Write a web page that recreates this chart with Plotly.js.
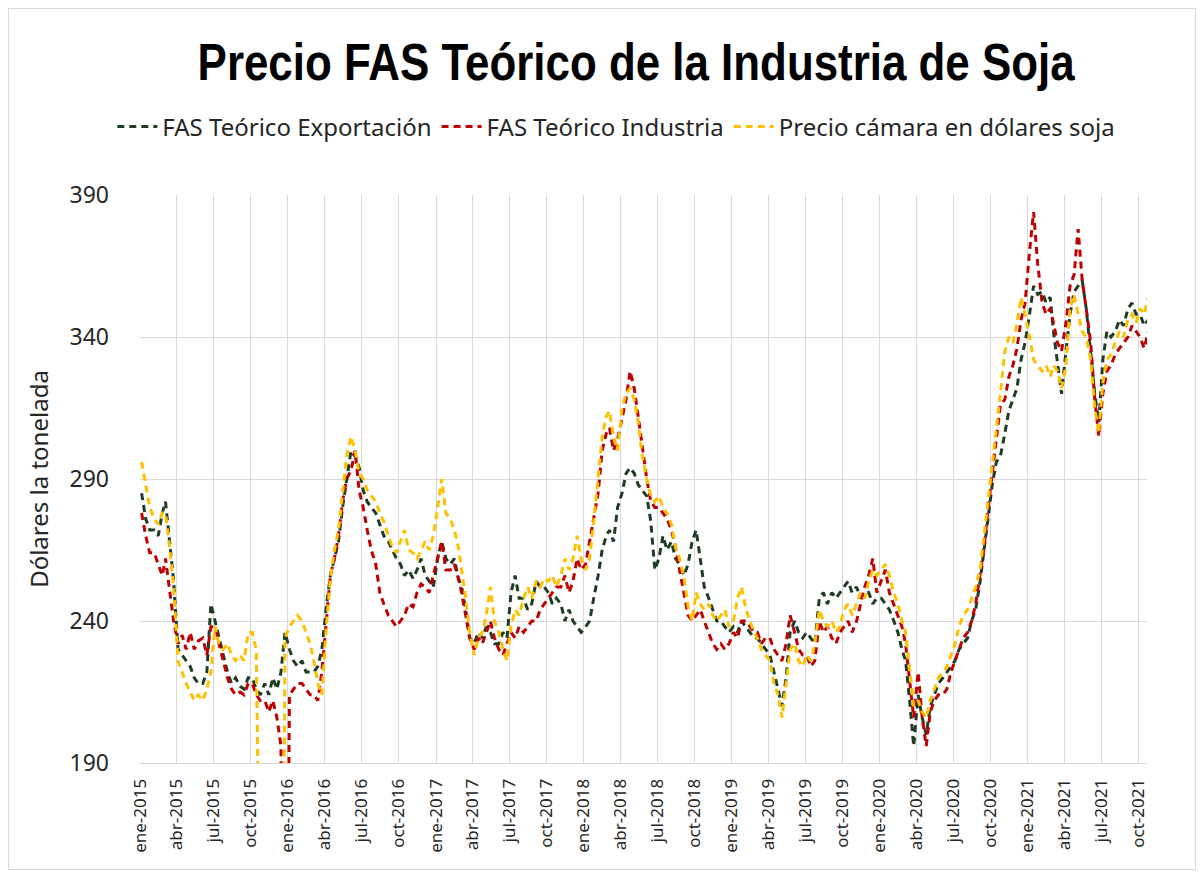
<!DOCTYPE html>
<html>
<head>
<meta charset="utf-8">
<script src="https://cdn.plot.ly/plotly-3.0.1.min.js"></script>
<style>
html,body{margin:0;padding:0;background:#fff;}
#wrap{position:relative;width:1201px;height:873px;}
#chart{width:1201px;height:873px;}
#frame{position:absolute;left:8px;top:8px;width:1186px;height:860px;border:1px solid #d9d9d9;pointer-events:none;}
</style>
</head>
<body>
<div id="wrap"><div id="chart"></div><div id="frame"></div></div>
<script>
// ---- data (three readings per month: day 5, 15, 25), ene-2015 .. oct-2021 ----
const startYear = 2015, startMonth = 1, nMonths = 82;
const sampleDays = [5, 15, 25];

const fasExportacion = [
  // 2015
  285,276,272, 272,270,278, 282,268,254, 230,228,226, 224,220,218, 218,222,246,
  240,234,228, 222,218,220, 217,216,220, 220,216,214, 218,214,220, 216,222,236,
  // 2016
  230,226,224, 226,222,222, 222,224,230, 245,256,262, 268,280,290, 300,298,294,
  286,282,280, 278,274,270, 268,265,262, 260,256,258, 255,258,262, 256,254,252,
  // 2017
  262,268,262, 260,262,255, 252,244,234, 232,236,234, 238,236,232, 232,236,234,
  250,256,248, 248,244,246, 254,252,252, 250,246,248, 246,240,244, 240,238,236,
  // 2018
  238,240,248, 256,265,270, 272,268,280, 285,292,294, 292,288,286, 284,275,258,
  262,270,265, 268,262,260, 256,260,268, 272,262,252, 248,244,240, 240,238,236,
  // 2019
  238,236,240, 238,236,234, 234,232,230, 228,222,216, 210,220,236, 240,236,234,
  236,234,232, 248,250,246, 250,248,250, 252,254,250, 252,248,250, 250,246,248,
  // 2020
  248,246,244, 240,236,230, 226,212,196, 214,206,200, 210,214,218, 220,222,224,
  226,230,232, 234,240,244, 254,265,278, 288,296,298, 306,314,318, 322,332,338,
  // 2021
  348,358,355, 356,352,354, 342,330,320, 335,348,356, 358,360,350, 335,320,310,
  332,342,340, 342,346,344, 350,352,348, 348,344,346
];

const fasIndustria = [
  // 2015
  278,270,264, 264,260,256, 262,250,240, 232,235,230, 236,230,233, 234,228,238,
  238,232,226, 220,216,214, 215,214,218, 218,214,212, 212,208,212, 206,196,0,
  // 2016
  214,216,218, 218,216,214, 214,212,222, 240,256,262, 270,282,290, 293,300,286,
  280,272,265, 260,250,246, 242,240,238, 240,242,246, 245,250,253, 252,250,256,
  // 2017
  262,268,258, 258,260,255, 250,242,234, 230,234,232, 236,240,234, 230,228,232,
  236,234,238, 236,238,240, 240,244,246, 248,250,252, 252,256,250, 254,262,258,
  // 2018
  260,268,276, 285,300,306, 308,300,304, 312,318,328, 322,312,302, 290,282,280,
  280,278,276, 272,266,258, 250,242,240, 242,244,240, 236,232,230, 232,230,232,
  // 2019
  236,234,240, 240,238,236, 236,232,234, 234,230,228, 226,232,242, 236,230,228,
  228,224,226, 240,236,238, 234,232,236, 238,240,236, 240,246,252, 256,262,250,
  // 2020
  254,258,250, 246,242,238, 232,218,206, 222,206,196, 208,212,214, 214,216,222,
  226,230,234, 236,240,246, 256,266,280, 292,305,316, 318,326,330, 336,346,352,
  // 2021
  370,384,366, 352,348,350, 345,338,335, 345,358,362, 378,360,350, 338,318,305,
  320,328,330, 334,336,338, 340,344,342, 340,336,342
];

const precioCamara = [
  // 2015
  296,288,280, 276,274,278, 278,266,252, 226,222,218, 215,212,214, 212,216,222,
  238,232,230, 232,228,226, 228,226,236, 236,230,0, 0,0,0, 0,0,234,
  // 2016
  238,240,242, 240,236,232, 226,218,214, 238,255,265, 272,285,298, 305,300,292,
  290,286,284, 282,278,275, 270,266,264, 268,272,265, 264,262,265, 268,265,270,
  // 2017
  280,290,278, 276,272,266, 258,248,236, 228,234,236, 242,252,240, 236,230,226,
  238,244,242, 248,252,248, 254,252,255, 254,256,252, 256,262,258, 262,270,262,
  // 2018
  258,262,275, 290,305,312, 314,305,300, 315,320,322, 318,310,298, 290,284,282,
  284,280,278, 274,266,262, 255,245,240, 250,246,244, 246,242,240, 242,244,238,
  // 2019
  240,248,252, 244,240,236, 234,230,228, 226,218,214, 206,218,230, 232,226,224,
  228,226,232, 244,240,238, 240,236,238, 244,246,242, 246,250,248, 254,258,256,
  // 2020
  258,260,256, 250,246,240, 236,222,210, 212,208,206, 212,216,220, 222,224,228,
  232,238,242, 244,248,252, 258,270,282, 296,308,320, 335,340,338, 345,354,348,
  // 2021
  340,332,330, 328,330,326, 330,328,322, 330,350,355, 348,342,340, 332,315,306,
  324,332,334, 338,342,340, 346,348,345, 350,348,354
];

const seriesNames = ["FAS Teórico Exportación", "FAS Teórico Industria", "Precio cámara en dólares soja"];
const seriesColors = ["#1f3d24", "#c00000", "#ffc000"];
const quarterLabels = ["ene", "abr", "jul", "oct"];
const yTicks = [190, 240, 290, 340, 390];

// ---- build dates ----
function pad(n){ return (n < 10 ? "0" : "") + n; }
const dates = [];
for (let m = 0; m < nMonths; m++) {
  const y = startYear + Math.floor((startMonth - 1 + m) / 12);
  const mo = ((startMonth - 1 + m) % 12) + 1;
  sampleDays.forEach(d => dates.push(y + "-" + pad(mo) + "-" + pad(d)));
}
const tickVals = [], tickText = [];
for (let y = 2015; y <= 2021; y++) {
  for (let q = 0; q < 4; q++) {
    tickVals.push(y + "-" + pad(q * 3 + 1) + "-01");
    tickText.push(quarterLabels[q] + "-" + y);
  }
}

const allSeries = [fasExportacion, fasIndustria, precioCamara];
const traces = allSeries.map((vals, i) => ({
  type: "scatter",
  mode: "lines",
  x: dates,
  y: vals,
  name: seriesNames[i],
  line: { color: seriesColors[i], width: 3, dash: "7px,5px" },
  hoverinfo: "x+y+name"
}));

const layout = {
  width: 1201,
  height: 873,
  paper_bgcolor: "#ffffff",
  plot_bgcolor: "#ffffff",
  margin: { l: 140, r: 54, t: 195, b: 110 },
  title: {
    text: "<b>Precio FAS Teórico de la Industria de Soja</b>",
    font: { family: "Liberation Sans, Arial, sans-serif", size: 52, color: "#000000" },
    x: 0.4926, xref: "paper", xanchor: "center",
    y: 0.929, yref: "container", yanchor: "middle"
  },
  showlegend: true,
  legend: {
    orientation: "h",
    x: 0.473, xanchor: "center",
    y: 1.12, yanchor: "middle",
    font: { family: "Noto Sans, sans-serif", size: 24, color: "#262626" },
    itemwidth: 40,
    traceorder: "normal"
  },
  xaxis: {
    type: "date",
    range: ["2015-01-01", "2021-10-22"],
    tickmode: "array",
    tickvals: tickVals,
    ticktext: tickText,
    tickangle: -90,
    tickfont: { family: "Noto Sans, sans-serif", size: 17, color: "#262626" },
    ticklabelstandoff: 8,
    showgrid: true,
    gridcolor: "#d9d9d9",
    gridwidth: 1,
    showline: true,
    linecolor: "#d9d9d9",
    linewidth: 1,
    ticks: "",
    zeroline: false,
    fixedrange: true
  },
  yaxis: {
    range: [190, 390],
    tickmode: "array",
    tickvals: yTicks,
    ticktext: yTicks.map(String),
    tickfont: { family: "Noto Sans, sans-serif", size: 23, color: "#262626" },
    ticklabelstandoff: 30,
    showgrid: true,
    gridcolor: "#d9d9d9",
    gridwidth: 1,
    zeroline: false,
    showline: false,
    ticks: "",
    title: {
      text: "Dólares la tonelada",
      font: { family: "Noto Sans, sans-serif", size: 24, color: "#262626" },
      standoff: 14
    },
    fixedrange: true
  }
};

Plotly.newPlot("chart", traces, layout, { displayModeBar: false, staticPlot: true }).then(gd => {
  // condense the headline horizontally (narrow heavy face in the original)
  const t = gd.querySelector(".gtitle");
  const g = t ? t.parentNode : null;
  if (t && g) {
    const bb = t.getBBox();
    const cx = bb.x + bb.width / 2;
    const s = 878 / bb.width;
    g.setAttribute("transform", "translate(" + cx + ",0) scale(" + s + ",1) translate(" + (-cx) + ",0)");
  }
});
</script>
</body>
</html>
